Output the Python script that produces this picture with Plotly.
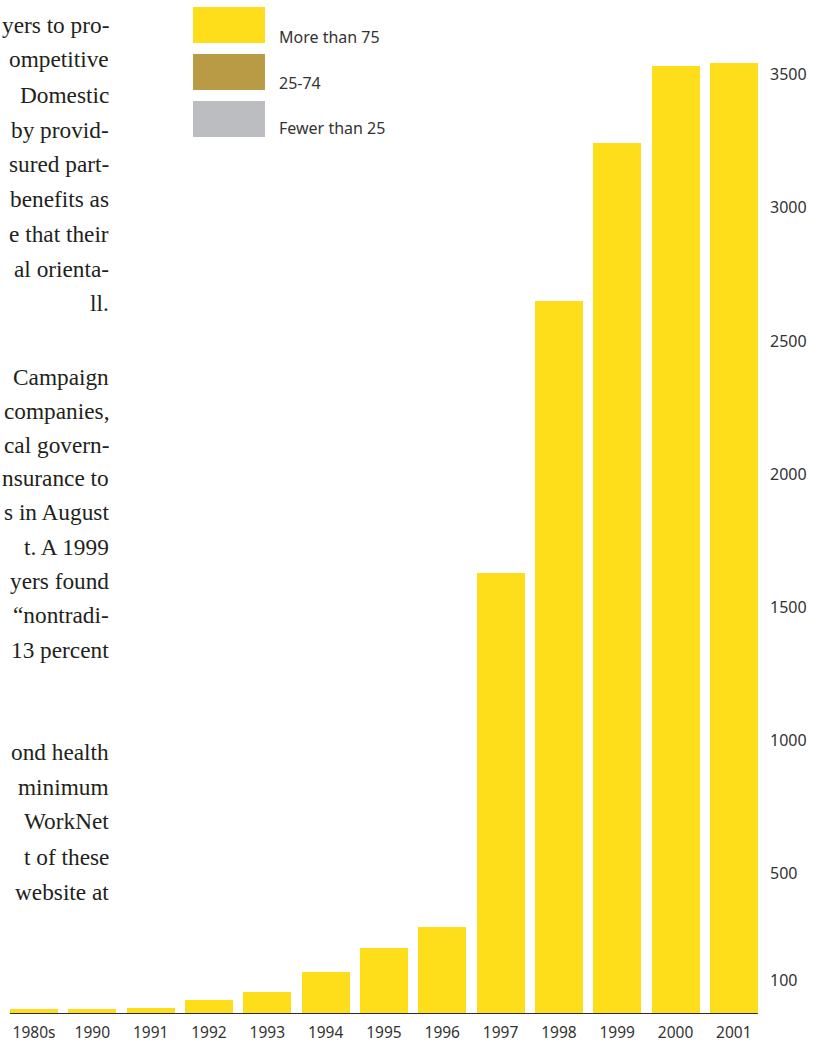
import plotly.graph_objects as go

# ---- data ----
categories = ["1980s", "1990", "1991", "1992", "1993", "1994", "1995",
              "1996", "1997", "1998", "1999", "2000", "2001"]
more_than_75 = [17, 17, 24, 54, 84, 156, 246, 325, 1657, 2678, 3268, 3560, 3568]
mid_25_74 = [0, 0, 0, 0, 0, 0, 0, 0, 0, 0, 0, 0, 0]
fewer_than_25 = [0, 0, 0, 0, 0, 0, 0, 0, 0, 0, 0, 0, 0]
series_names = ["More than 75", "25-74", "Fewer than 25"]
series_colors = ["#FEDE1B", "#B99B45", "#BCBDC0"]
y_ticks = [100, 500, 1000, 1500, 2000, 2500, 3000, 3500]

body_lines = [
    ("yers to pro-", 25), ("ompetitive", 59), ("Domestic", 95),
    ("by provid-", 130), ("sured part-", 164), ("benefits as", 199),
    ("e that their", 234), ("al orienta-", 269), ("ll.", 303),
    ("Campaign", 377), ("companies,", 411), ("cal govern-", 445),
    ("nsurance to", 478), ("s in August", 512), ("t. A 1999", 547),
    ("yers found", 581), ("\u201cnontradi-", 615), ("13 percent", 650),
    ("ond health", 752), ("minimum", 787), ("WorkNet", 821),
    ("t of these", 857), ("website at", 892),
]

# the page body margin is removed in the html (post_script), so the figure fills the page
OFF = 0
W, H = 819 - OFF, 1042 - OFF
L, R, T, B = 0, 56, 0, 28
PW, PH = W - L - R, H - T - B
SLOT = 58.32  # px per category
x_lo = -0.5 + (OFF + L - 4.85) / SLOT
x_hi = x_lo + PW / SLOT


def px(x):
    return (x - OFF - L) / PW


def py(y):
    return (H - B - (y - OFF)) / PH


fig = go.Figure()
for name, vals, col in [(series_names[2], fewer_than_25, series_colors[2]),
                        (series_names[1], mid_25_74, series_colors[1]),
                        (series_names[0], more_than_75, series_colors[0])]:
    fig.add_trace(go.Bar(x=categories, y=vals, name=name, marker_color=col,
                         marker_line_width=0, showlegend=False))

annotations = []
shapes = []

# legend swatches and labels
sw_tops = [7, 54, 101]
lab_y = [37, 83, 128]
for i in range(3):
    shapes.append(dict(type="rect", xref="paper", yref="paper",
                       x0=px(193), x1=px(265), y0=py(sw_tops[i] + 36), y1=py(sw_tops[i]),
                       fillcolor=series_colors[i], line_width=0))
    annotations.append(dict(text=series_names[i], xref="paper", yref="paper",
                            x=px(277), y=py(lab_y[i]), xanchor="left", yanchor="middle",
                            showarrow=False,
                            font=dict(family="Noto Sans", size=16, color="#333333")))

# body text (cut-off column on the left)
for txt, yc in body_lines:
    annotations.append(dict(text=txt, xref="paper", yref="paper",
                            x=px(111), y=py(yc), xanchor="right", yanchor="middle",
                            showarrow=False,
                            font=dict(family="Liberation Serif", size=23.3, color="#231F20")))

# baseline under the bars
shapes.append(dict(type="line", xref="x", yref="y", x0=-0.41, x1=12.41, y0=0, y1=0,
                   line=dict(color="#2A2A2A", width=2), layer="above"))

fig.update_layout(
    width=W, height=H,
    margin=dict(l=L, r=R, t=T, b=B, pad=0),
    paper_bgcolor="white", plot_bgcolor="white",
    barmode="stack", bargap=0.177,
    showlegend=False,
    shapes=shapes, annotations=annotations,
    font=dict(family="Noto Sans", size=15, color="#333333"),
)
fig.update_xaxes(range=[x_lo, x_hi], showgrid=False, zeroline=False, showline=False,
                 ticks="", ticklabelstandoff=7,
                 tickfont=dict(family="Noto Sans", size=15.5, color="#333333"))
fig.update_yaxes(side="right", range=[0, PH / 0.2664], tickvals=y_ticks,
                 showgrid=False, zeroline=False, showline=False, ticks="",
                 ticklabelstandoff=6, ticklabelshift=-7,
                 tickfont=dict(family="Noto Sans", size=16, color="#333333"))

fig.write_html("out.html",
               config={"displayModeBar": False},
               post_script="document.body.style.margin='0px';"
                           "document.body.style.overflow='hidden';")
